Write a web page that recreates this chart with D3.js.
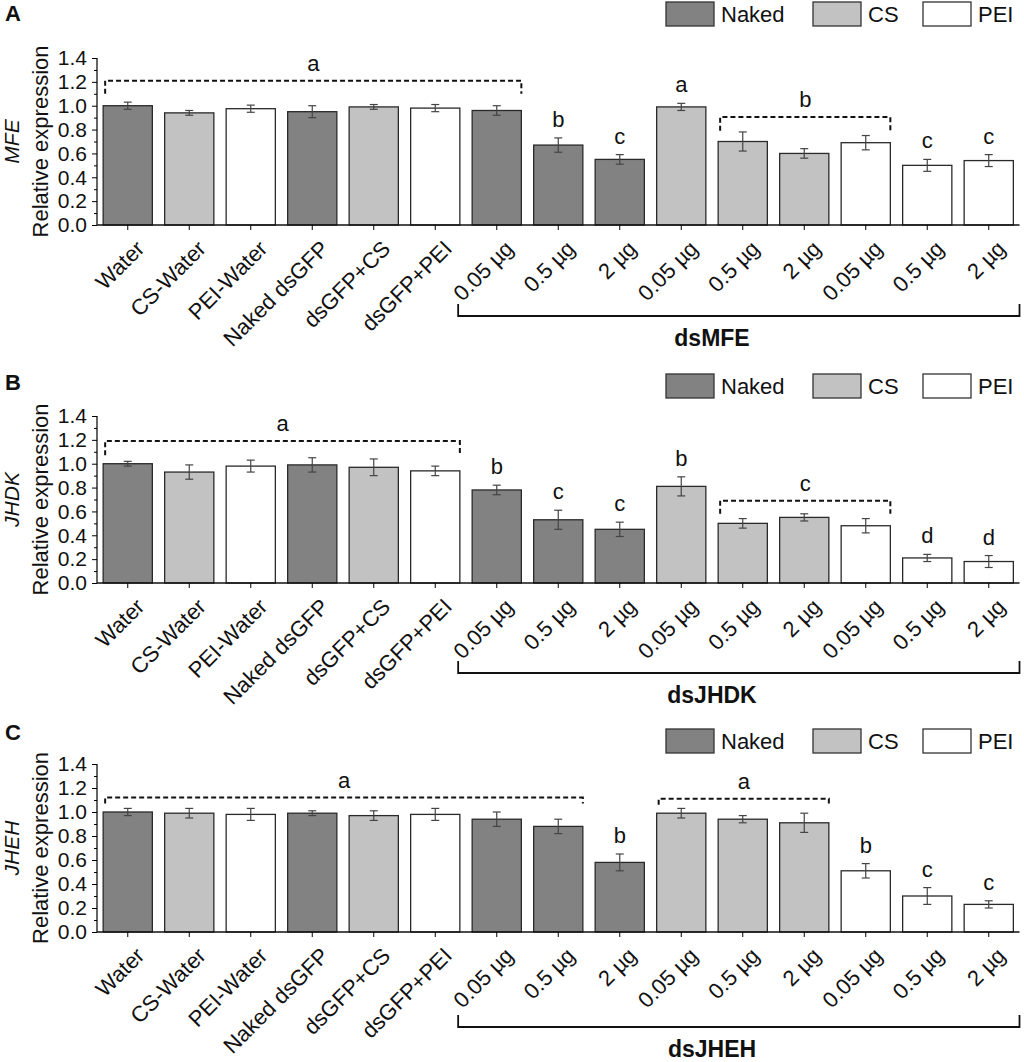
<!DOCTYPE html>
<html>
<head>
<meta charset="utf-8">
<script src="https://cdn.jsdelivr.net/npm/d3@7"></script>
<style>
  body { margin: 0; background: #fff; }
  text { font-family: "Liberation Sans", Arial, sans-serif; fill: #111; }
</style>
</head>
<body>
<svg id="chart" width="1024" height="1062"></svg>
<script>
// categories shared by all three panels
const categories = ["Water", "CS-Water", "PEI-Water", "Naked dsGFP", "dsGFP+CS", "dsGFP+PEI",
  "0.05 µg", "0.5 µg", "2 µg", "0.05 µg", "0.5 µg", "2 µg", "0.05 µg", "0.5 µg", "2 µg"];
const groups = ["Naked", "CS", "PEI", "Naked", "CS", "PEI",
  "Naked", "Naked", "Naked", "CS", "CS", "CS", "PEI", "PEI", "PEI"];
const legendKeys = ["Naked", "CS", "PEI"];
const yTicks = [0, 0.2, 0.4, 0.6, 0.8, 1.0, 1.2, 1.4];

// A - MFE
const mfeMean = [1.00, 0.94, 0.975, 0.95, 0.99, 0.98, 0.96, 0.67, 0.55, 0.99, 0.70, 0.60, 0.69, 0.50, 0.54];
const mfeErr = [0.03, 0.02, 0.03, 0.05, 0.02, 0.03, 0.04, 0.06, 0.04, 0.03, 0.08, 0.04, 0.06, 0.05, 0.05];
const mfeLetters = ["", "", "", "", "", "", "", "b", "c", "a", "", "", "", "c", "c"];
// [first bar, last bar, level, end level, letter]
const mfeBrackets = [[0, 6, 1.21, 1.10, "a"], [10, 12, 0.905, 0.79, "b"]];

// B - JHDK
const jhdkMean = [1.00, 0.93, 0.98, 0.99, 0.97, 0.94, 0.78, 0.53, 0.45, 0.81, 0.50, 0.55, 0.48, 0.21, 0.18];
const jhdkErr = [0.02, 0.06, 0.05, 0.06, 0.07, 0.04, 0.04, 0.08, 0.06, 0.08, 0.04, 0.03, 0.06, 0.03, 0.05];
const jhdkLetters = ["", "", "", "", "", "", "b", "c", "c", "b", "", "", "", "d", "d"];
const jhdkBrackets = [[0, 5, 1.19, 1.07, "a"], [10, 12, 0.69, 0.58, "c"]];

// C - JHEH
const jhehMean = [1.00, 0.99, 0.98, 0.99, 0.97, 0.98, 0.94, 0.88, 0.58, 0.99, 0.94, 0.91, 0.51, 0.30, 0.23];
const jhehErr = [0.03, 0.04, 0.05, 0.02, 0.04, 0.05, 0.06, 0.06, 0.07, 0.04, 0.03, 0.08, 0.06, 0.07, 0.03];
const jhehLetters = ["", "", "", "", "", "", "", "", "b", "", "", "", "b", "c", "c"];
const jhehBrackets = [[0, 7, 1.12, 1.07, "a"], [9, 11, 1.11, 1.06, "a"]];

const fills = { Naked: "#828282", CS: "#c2c2c2", PEI: "#ffffff" };

const svg = d3.select("#chart");
svg.append("rect").attr("width", 1024).attr("height", 1062).attr("fill", "#fff");

const x = d3.scaleBand()
  .domain(d3.range(categories.length))
  .range([97, 1019.5])
  .paddingInner(0.2)
  .paddingOuter(0.1);

function drawPanel(p) {
  const g = svg.append("g");
  const y = d3.scaleLinear().domain([0, 1.4]).range([p.bottom, p.top]);

  // panel letter
  g.append("text").attr("x", 5).attr("y", p.labelY)
    .style("font-size", "22px").style("font-weight", "bold").text(p.panel);

  // legend
  const lx = [666, 813, 923];
  legendKeys.forEach((k, i) => {
    g.append("rect").attr("x", lx[i]).attr("y", p.legendY).attr("width", 48).attr("height", 24)
      .attr("fill", fills[k]).attr("stroke", "#333").attr("stroke-width", 1.3);
    g.append("text").attr("x", lx[i] + 55).attr("y", p.legendY + 20)
      .style("font-size", "22px").text(k);
  });

  // bars
  g.selectAll("rect.bar").data(p.mean).enter().append("rect")
    .attr("class", "bar")
    .attr("x", (d, i) => x(i))
    .attr("y", d => y(d))
    .attr("width", x.bandwidth())
    .attr("height", d => y(0) - y(d))
    .attr("fill", (d, i) => fills[groups[i]])
    .attr("stroke", "#2a2a2a").attr("stroke-width", 1.3);

  // error bars
  const eb = g.selectAll("g.err").data(p.mean).enter().append("g")
    .attr("stroke", "#444").attr("stroke-width", 1.2);
  eb.append("line")
    .attr("x1", (d, i) => x(i) + x.bandwidth() / 2).attr("x2", (d, i) => x(i) + x.bandwidth() / 2)
    .attr("y1", (d, i) => y(d - p.err[i])).attr("y2", (d, i) => y(d + p.err[i]));
  [-1, 1].forEach(s => {
    eb.append("line")
      .attr("x1", (d, i) => x(i) + x.bandwidth() / 2 - 4).attr("x2", (d, i) => x(i) + x.bandwidth() / 2 + 4)
      .attr("y1", (d, i) => y(d + s * p.err[i])).attr("y2", (d, i) => y(d + s * p.err[i]));
  });

  // significance letters
  g.selectAll("text.sig").data(p.mean).enter().append("text")
    .attr("x", (d, i) => x(i) + x.bandwidth() / 2)
    .attr("y", (d, i) => y(d + p.err[i]) - 11)
    .attr("text-anchor", "middle")
    .style("font-size", "22px")
    .text((d, i) => p.letters[i]);

  // dashed brackets
  p.brackets.forEach(b => {
    const x0 = x(b[0]) + 2, x1 = x(b[1]) + x.bandwidth();
    g.append("path")
      .attr("d", `M${x0},${y(b[3])}V${y(b[2])}H${x1}V${y(b[3])}`)
      .attr("fill", "none").attr("stroke", "#111").attr("stroke-width", 2)
      .attr("stroke-dasharray", "5,3");
    g.append("text").attr("x", (x0 + x1) / 2).attr("y", y(b[2]) - 10)
      .attr("text-anchor", "middle").style("font-size", "22px").text(b[4]);
  });

  // y axis
  const ya = g.append("g").attr("transform", "translate(97,0)")
    .call(d3.axisLeft(y).tickValues(yTicks).tickFormat(d3.format(".1f")).tickSize(5).tickPadding(5));
  ya.select(".domain").attr("d", `M0,${p.bottom}V${p.top}`).attr("stroke", "#111").attr("stroke-width", 1.3);
  ya.selectAll("text").style("font-size", "21px").style("font-family", "Liberation Sans, Arial, sans-serif");
  g.append("g").attr("transform", "translate(97,0)")
    .call(d3.axisLeft(y).tickValues(d3.range(0.1, 1.4, 0.2)).tickFormat("").tickSize(3))
    .select(".domain").remove();

  // x axis
  const xa = g.append("g").attr("transform", `translate(0,${p.bottom})`)
    .call(d3.axisBottom(x).tickSize(5).tickFormat(""));
  xa.select(".domain").attr("d", `M97,0H1019.5`).attr("stroke", "#111").attr("stroke-width", 1.3);

  g.selectAll("text.cat").data(categories).enter().append("text")
    .attr("transform", (d, i) => `translate(${x(i) + x.bandwidth() / 2 + 18},${p.bottom + 25})rotate(-45)`)
    .attr("text-anchor", "end")
    .style("font-size", "22px")
    .text(d => d);

  // y titles
  const cy = (p.top + p.bottom) / 2;
  g.append("text").attr("transform", `translate(48,${cy})rotate(-90)`)
    .attr("text-anchor", "middle").style("font-size", "22px").text("Relative expression");
  g.append("text").attr("transform", `translate(19,${cy})rotate(-90)`)
    .attr("text-anchor", "middle").style("font-size", "21px").style("font-style", "italic").text(p.gene);

  // group bracket below axis
  const by = p.bottom + p.bracketGap;
  const bx0 = x(6) - 14, bx1 = 1019.5;
  g.append("path").attr("d", `M${bx0},${by - 12}V${by}H${bx1}V${by - 12}`)
    .attr("fill", "none").attr("stroke", "#111").attr("stroke-width", 1.8);
  g.append("text").attr("x", 712).attr("y", by + 30).attr("text-anchor", "middle")
    .style("font-size", "23px").style("font-weight", "bold").text(p.group);
}

drawPanel({ panel: "A", gene: "MFE", group: "dsMFE", top: 58, bottom: 225, labelY: 21, legendY: 2,
  bracketGap: 91, mean: mfeMean, err: mfeErr, letters: mfeLetters, brackets: mfeBrackets });
drawPanel({ panel: "B", gene: "JHDK", group: "dsJHDK", top: 416, bottom: 583, labelY: 390, legendY: 374,
  bracketGap: 90, mean: jhdkMean, err: jhdkErr, letters: jhdkLetters, brackets: jhdkBrackets });
drawPanel({ panel: "C", gene: "JHEH", group: "dsJHEH", top: 764, bottom: 932, labelY: 740, legendY: 729,
  bracketGap: 95, mean: jhehMean, err: jhehErr, letters: jhehLetters, brackets: jhehBrackets });
</script>
</body>
</html>
